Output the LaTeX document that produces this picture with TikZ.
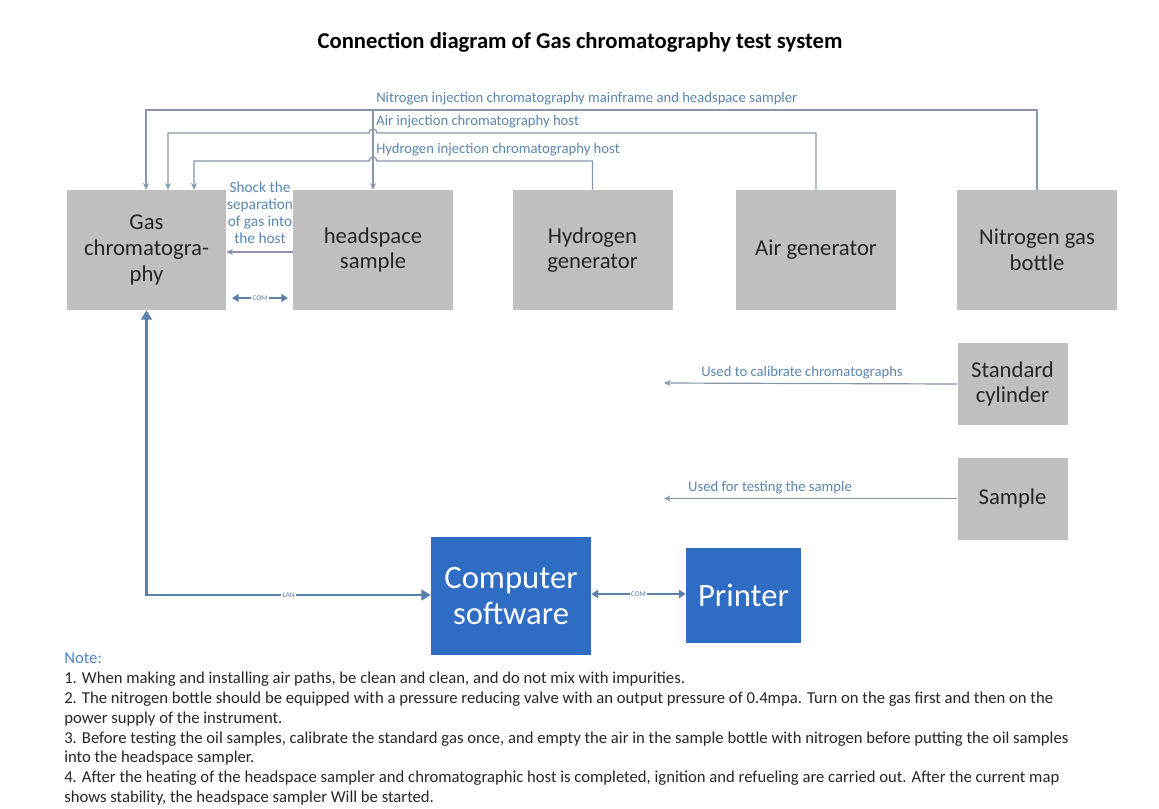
\documentclass[tikz,border=0pt]{standalone}
\usepackage{fontspec}
\setmainfont{Carlito}
\usetikzlibrary{arrows.meta}
\definecolor{boxgray}{HTML}{BFBFBF}
\definecolor{boxblue}{HTML}{2F6CC4}
\definecolor{linecol}{HTML}{8898AA}
\definecolor{labcol}{HTML}{5B87B0}
\definecolor{lancol}{HTML}{5A82AC}
\definecolor{txt}{HTML}{262626}
\definecolor{notecol}{HTML}{4A86C8}
\tikzset{
  graybox/.style={fill=boxgray, draw=none, text=txt, align=center, inner sep=0pt,
    font=\fontsize{17}{19.2}\selectfont},
  bluebox/.style={fill=boxblue, draw=none, text=white, align=center, inner sep=0pt,
    font=\fontsize{24.5}{26.5}\selectfont},
  gasline/.style={draw=linecol, line width=0.9pt},
  gasarrow/.style={gasline, -{Stealth[length=5pt,width=4.5pt]}},
  lab/.style={text=labcol, inner sep=0pt, font=\fontsize{11}{12.75}\selectfont},
  tinylab/.style={text=lancol, inner sep=1pt, font=\fontsize{5.5}{6}\selectfont, fill=white},
  lanarrow/.style={draw=lancol, line width=2.2pt, {Triangle[length=7pt,width=8pt]}-{Triangle[length=7pt,width=8pt]}},
  comarrow/.style={draw=lancol, line width=1.5pt, {Triangle[length=5pt,width=6pt]}-{Triangle[length=5pt,width=6pt]}},
}
\begin{document}
\begin{tikzpicture}[x=0.75pt,y=-0.75pt]
\useasboundingbox[fill=white] (0,0) rectangle (1159,808);

% title
\node[font=\fontsize{17}{20}\selectfont\bfseries, text=black] (title) at (580,42) {Connection diagram of Gas chromatography test system};

% gray boxes
\node[graybox, minimum width=119.25pt, minimum height=90pt] (gc) at (146.5,250) {Gas\\chromatogra-\\phy};
\node[graybox, minimum width=120pt, minimum height=90pt] (hs) at (373,250) {headspace\\sample};
\node[graybox, minimum width=120pt, minimum height=90pt] (h2) at (592.5,250) {Hydrogen\\generator};
\node[graybox, minimum width=120pt, minimum height=90pt] (air) at (816,250) {Air generator};
\node[graybox, minimum width=120pt, minimum height=90pt] (n2) at (1037,250) {Nitrogen gas\\bottle};
\node[graybox, minimum width=82.5pt, minimum height=61.5pt] (std) at (1012.5,384) {Standard\\cylinder};
\node[graybox, minimum width=82.5pt, minimum height=61.5pt] (smp) at (1012.5,498.5) {Sample};

% blue boxes
\node[bluebox, minimum width=120pt, minimum height=88.5pt] (comp) at (511,596) {Computer\\software};
\node[bluebox, minimum width=86.25pt, minimum height=71.25pt] (prn) at (743.5,595.5) {Printer};

% gas supply lines
\coordinate (nL) at (146,110);
\coordinate (aL) at (168,133);
\coordinate (hL) at (194,161);
\draw[gasarrow] (n2.north) |- (nL) -- (nL |- gc.north);
\draw[gasarrow] (air.north) |- (377,133) arc[start angle=0, end angle=180, radius=3pt] -- (aL) -- (aL |- gc.north);
\draw[gasarrow] (h2.north) |- (377,161) arc[start angle=0, end angle=180, radius=3pt] -- (hL) -- (hL |- gc.north);
\coordinate (hsT) at (373,110);
\draw[gasarrow] (hsT) -- (hsT |- hs.north);

\node[lab, anchor=south west] (nlab) at (376,105) {Nitrogen injection chromatography mainframe and headspace sampler};
\node[lab, anchor=south west] (alab) at (376,128) {Air injection chromatography host};
\node[lab, anchor=south west] (hlab) at (376,156) {Hydrogen injection chromatography host};

% headspace to GC
\draw[gasarrow] (hs.west |- 0,252) -- (gc.east |- 0,252);
\node[lab, align=center, font=\fontsize{11.5}{12.75}\selectfont] (shock) at (260,213) {Shock the\\separation\\of gas into\\the host};
\draw[comarrow, line width=1.2pt] (232,298) -- node[tinylab] {COM} (288,298);

% standard and sample
\draw[gasarrow] (std.west) -- (664,383);
\node[lab, anchor=south] (stdlab) at (802,379) {Used to calibrate chromatographs};
\draw[gasarrow] (smp.west) -- (664,498.5);
\node[lab, anchor=south] (smplab) at (770,494) {Used for testing the sample};

% LAN
\coordinate (lanC) at (146.5,595);
\draw[lanarrow] (gc.south -| lanC) -- (lanC) -- node[tinylab, pos=0.5] {LAN} (comp.west |- lanC);
\draw[comarrow] (comp.east |- 0,594) -- node[tinylab] {COM} (prn.west |- 0,594);

% notes
\node[anchor=north west, inner sep=0pt, text=notecol, font=\fontsize{12.5}{14.8}\selectfont] (note) at (64,653) {Note:};
\node[anchor=north west, inner sep=0pt, align=left, text=txt, font=\fontsize{12.5}{14.8}\selectfont] (notes) at (64,672) {%
1. When making and installing air paths, be clean and clean, and do not mix with impurities.\\
2. The nitrogen bottle should be equipped with a pressure reducing valve with an output pressure of 0.4mpa. Turn on the gas first and then on the\\
power supply of the instrument.\\
3. Before testing the oil samples, calibrate the standard gas once, and empty the air in the sample bottle with nitrogen before putting the oil samples\\
into the headspace sampler.\\
4. After the heating of the headspace sampler and chromatographic host is completed, ignition and refueling are carried out. After the current map\\
shows stability, the headspace sampler Will be started.};
\end{tikzpicture}
\end{document}
